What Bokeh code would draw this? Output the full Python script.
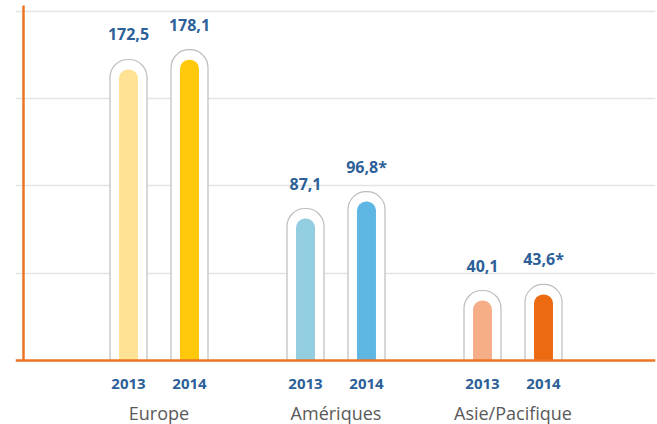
import numpy as np
from bokeh.plotting import figure
from bokeh.models import ColumnDataSource, FixedTicker, Range1d
from bokeh.core.properties import value
from bokeh.embed import file_html
from bokeh.resources import INLINE

# ---- data ----
regions = ["Europe", "Amériques", "Asie/Pacifique"]
years = ["2013", "2014"]
values_2013 = [172.5, 87.1, 40.1]
values_2014 = [178.1, 96.8, 43.6]
labels_2013 = ["172,5", "87,1", "40,1"]
labels_2014 = ["178,1", "96,8*", "43,6*"]
colors_2013 = ["#FFE293", "#93CDE0", "#F5AE88"]
colors_2014 = ["#FFC80A", "#5EB6E2", "#EC6B12"]
grid_values = [50, 100, 150, 200]

# ---- layout constants ----
W, H = 657, 424
Y0, Y1 = -36.68, 206.3
X0, X1 = 0.1893, 3.8051
FRAME_L, FRAME_R = 15, 2
px_per_y = H / (Y1 - Y0)
OFF = 0.1723          # half distance between the two bars of a group
OUT_W = 0.209
IN_W = 0.107
INNER_GAP = 10 / px_per_y
AXIS_X = 0.2345
AXIS_TOP = 203.5
BLUE = "#2D5F98"
ORANGE = "#EB7424"

p = figure(width=W, height=H, output_backend="svg", toolbar_location=None,
           x_range=Range1d(X0, X1), y_range=Range1d(Y0, Y1),
           min_border_left=FRAME_L, min_border_right=FRAME_R,
           min_border_top=0, min_border_bottom=0)
p.xaxis.visible = False
p.yaxis.visible = False
p.xgrid.visible = False
p.outline_line_color = None
p.ygrid.ticker = FixedTicker(ticks=grid_values)
p.ygrid.grid_line_color = "#E4E4E4"
p.ygrid.grid_line_width = 1.5

gx = np.arange(1, len(regions) + 1, dtype=float)
xs = np.concatenate([gx - OFF, gx + OFF])
vals = np.array(values_2013 + values_2014)
src = ColumnDataSource(dict(
    x=xs, top=vals, inner_top=vals - INNER_GAP,
    color=colors_2013 + colors_2014,
    label=labels_2013 + labels_2014,
    year=[years[0]] * 3 + [years[1]] * 3,
))

# outer capsules
p.vbar(x="x", top="top", bottom=0, width=OUT_W, source=src,
       fill_color="white", line_color="#BDBDBD", line_width=1.2,
       border_radius=(18, 18, 0, 0))
# inner coloured bars
p.vbar(x="x", top="inner_top", bottom=0, width=IN_W, source=src,
       fill_color="color", line_color=None, border_radius=(9, 9, 0, 0))

# axes lines
p.segment(x0=[X0], y0=[0], x1=[X1], y1=[0], line_color=ORANGE, line_width=2.5)
p.segment(x0=[AXIS_X], y0=[0], x1=[AXIS_X], y1=[AXIS_TOP], line_color=ORANGE, line_width=2.5)

# value labels
p.text(x="x", y="top", text="label", source=src, text_align="center",
       text_baseline="middle", y_offset=-25, text_color=BLUE,
       text_font=value("Open Sans"), text_font_style="bold", text_font_size="16px")
# year labels
p.text(x="x", y=0, text="year", source=src, text_align="center",
       text_baseline="middle", y_offset=24, text_color=BLUE,
       text_font=value("Open Sans"), text_font_style="bold", text_font_size="15px")
# category labels
csrc = ColumnDataSource(dict(x=gx, name=regions))
p.text(x="x", y=0, text="name", source=csrc, text_align="center",
       text_baseline="middle", y_offset=53, text_color="#595959",
       text_font=value("Open Sans"), text_font_size="18px")

open("out.html", "w").write(file_html(p, INLINE))
